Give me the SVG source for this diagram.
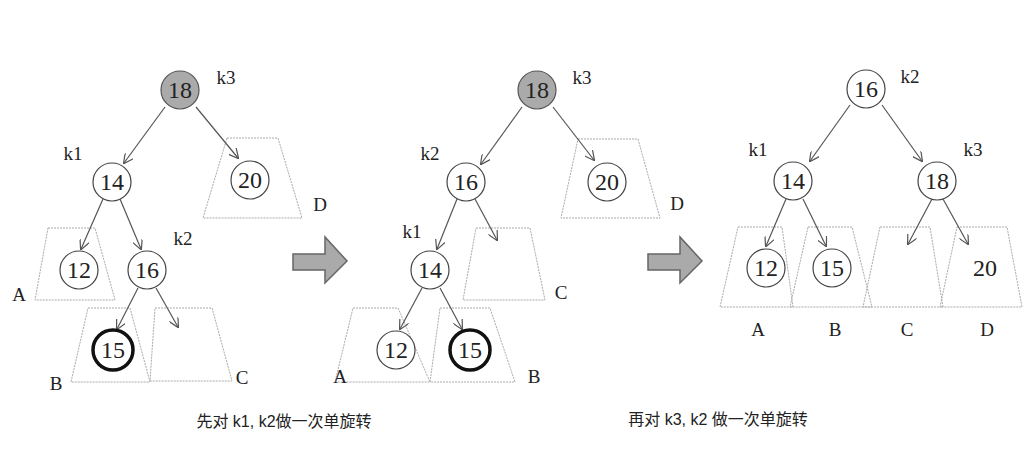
<svg xmlns="http://www.w3.org/2000/svg" width="1036" height="455" viewBox="0 0 1036 455">
<style>
.n{fill:#fff;stroke:#444;stroke-width:1.2}
.g{fill:#aaa;stroke:#555;stroke-width:1.2}
.b{fill:#fff;stroke:#111;stroke-width:3.5}
.t{fill:none;stroke:#aaa;stroke-width:1;stroke-dasharray:2 1}
.v{font-family:"Liberation Serif",serif;font-size:24px;fill:#222;text-anchor:middle}
.l{font-family:"Liberation Serif",serif;font-size:19px;fill:#222;text-anchor:middle}
.c{font-family:"Liberation Sans","Noto Sans CJK SC",sans-serif;font-size:16px;fill:#222;text-anchor:middle}
.e{stroke:#555;stroke-width:1.2;fill:none;marker-end:url(#a)}
.big{fill:#aaa;stroke:#666;stroke-width:1.5}
</style>
<defs><marker id="a" viewBox="0 0 10 10" refX="9" refY="5" markerWidth="10" markerHeight="10" orient="auto" markerUnits="userSpaceOnUse"><path d="M0,0 L10,5 L0,10" fill="none" stroke="#555" stroke-width="1.2"/></marker></defs>
<g id="subtrees">
<polygon class="t" points="227,138 278,138 302,218 203,218"/>
<polygon class="t" points="48,228 95,228 115,300 35,300"/>
<polygon class="t" points="88,308 130,308 150,382 71,382"/>
<polygon class="t" points="155,308 212,308 232,381 150,381"/>
<polygon class="t" points="578,139 638,139 660,218 561,218"/>
<polygon class="t" points="476,228 530,228 545,300 463,300"/>
<polygon class="t" points="353,308 398,308 430,382 335,382"/>
<polygon class="t" points="440,308 490,308 515,382 430,382"/>
<polygon class="t" points="738,227 782,227 793,307 720,307"/>
<polygon class="t" points="808,227 852,227 872,307 790,307"/>
<polygon class="t" points="880,227 930,227 943,307 863,307"/>
<polygon class="t" points="957,227 1007,227 1022,307 940,307"/>
</g>
<g id="connectors">
<line class="e" x1="165" y1="107" x2="124" y2="163"/>
<line class="e" x1="196" y1="107" x2="238" y2="158"/>
<line class="e" x1="103" y1="199" x2="81" y2="249"/>
<line class="e" x1="120" y1="199" x2="141" y2="249"/>
<line class="e" x1="138" y1="288" x2="117" y2="329"/>
<line class="e" x1="156" y1="288" x2="178" y2="327"/>
<line class="e" x1="522" y1="107" x2="481" y2="164"/>
<line class="e" x1="553" y1="107" x2="594" y2="160"/>
<line class="e" x1="457" y1="199" x2="437" y2="249"/>
<line class="e" x1="475" y1="199" x2="497" y2="240"/>
<line class="e" x1="422" y1="288" x2="400" y2="329"/>
<line class="e" x1="440" y1="288" x2="462" y2="329"/>
<line class="e" x1="850" y1="105" x2="810" y2="161"/>
<line class="e" x1="882" y1="105" x2="922" y2="161"/>
<line class="e" x1="786" y1="199" x2="766" y2="246"/>
<line class="e" x1="803" y1="199" x2="826" y2="246"/>
<line class="e" x1="932" y1="199" x2="908" y2="244"/>
<line class="e" x1="943" y1="199" x2="968" y2="244"/>
</g>
<g id="arrow1"><polygon class="big" points="293,254 325,254 325,237 347,261 325,283 325,270 293,270"/></g>
<g id="arrow2"><polygon class="big" points="648,254 680,254 680,237 702,261 680,283 680,270 648,270"/></g>
<g id="n18a"><circle class="g" cx="180" cy="90" r="19"/><text class="v" x="180" y="98">18</text><text class="l" x="226" y="84">k3</text></g>
<g id="n14a"><circle class="n" cx="112" cy="182" r="19"/><text class="v" x="112" y="190">14</text><text class="l" x="73" y="160">k1</text></g>
<g id="n20a"><circle class="n" cx="250" cy="180" r="19"/><text class="v" x="250" y="188">20</text><text class="l" x="320" y="211">D</text></g>
<g id="n12a"><circle class="n" cx="79" cy="270" r="19"/><text class="v" x="79" y="278">12</text><text class="l" x="19" y="301">A</text></g>
<g id="n16a"><circle class="n" cx="147" cy="270" r="19"/><text class="v" x="147" y="278">16</text><text class="l" x="183" y="245">k2</text></g>
<g id="n15a"><circle class="b" cx="113" cy="350" r="20"/><text class="v" x="113" y="358">15</text><text class="l" x="56" y="390">B</text><text class="l" x="242" y="384">C</text></g>
<g id="n18b"><circle class="g" cx="537" cy="90" r="19"/><text class="v" x="537" y="98">18</text><text class="l" x="582" y="84">k3</text></g>
<g id="n16b"><circle class="n" cx="466" cy="182" r="19"/><text class="v" x="466" y="190">16</text><text class="l" x="430" y="160">k2</text></g>
<g id="n20b"><circle class="n" cx="607" cy="182" r="19"/><text class="v" x="607" y="190">20</text><text class="l" x="677" y="210">D</text></g>
<g id="n14b"><circle class="n" cx="430" cy="270" r="19"/><text class="v" x="430" y="278">14</text><text class="l" x="412" y="238">k1</text><text class="l" x="561" y="299">C</text></g>
<g id="n12b"><circle class="n" cx="396" cy="350" r="19"/><text class="v" x="396" y="358">12</text><text class="l" x="340" y="383">A</text></g>
<g id="n15b"><circle class="b" cx="470" cy="350" r="20"/><text class="v" x="470" y="358">15</text><text class="l" x="534" y="383">B</text></g>
<g id="n16c"><circle class="n" cx="866" cy="89" r="19"/><text class="v" x="866" y="97">16</text><text class="l" x="910" y="83">k2</text></g>
<g id="n14c"><circle class="n" cx="793" cy="181" r="19"/><text class="v" x="793" y="189">14</text><text class="l" x="758" y="156">k1</text></g>
<g id="n18c"><circle class="n" cx="937" cy="181" r="19"/><text class="v" x="937" y="189">18</text><text class="l" x="973" y="156">k3</text></g>
<g id="n12c"><circle class="n" cx="766" cy="268" r="19"/><text class="v" x="766" y="276">12</text><text class="l" x="758" y="336">A</text></g>
<g id="n15c"><circle class="n" cx="832" cy="268" r="19"/><text class="v" x="832" y="276">15</text><text class="l" x="835" y="336">B</text></g>
<g id="n20c"><text class="v" x="985" y="276">20</text><text class="l" x="907" y="336">C</text><text class="l" x="987" y="336">D</text></g>
<g id="captions"><text class="c" x="284" y="427">先对 k1, k2做一次单旋转</text><text class="c" x="718" y="425">再对 k3, k2 做一次单旋转</text></g>
</svg>
